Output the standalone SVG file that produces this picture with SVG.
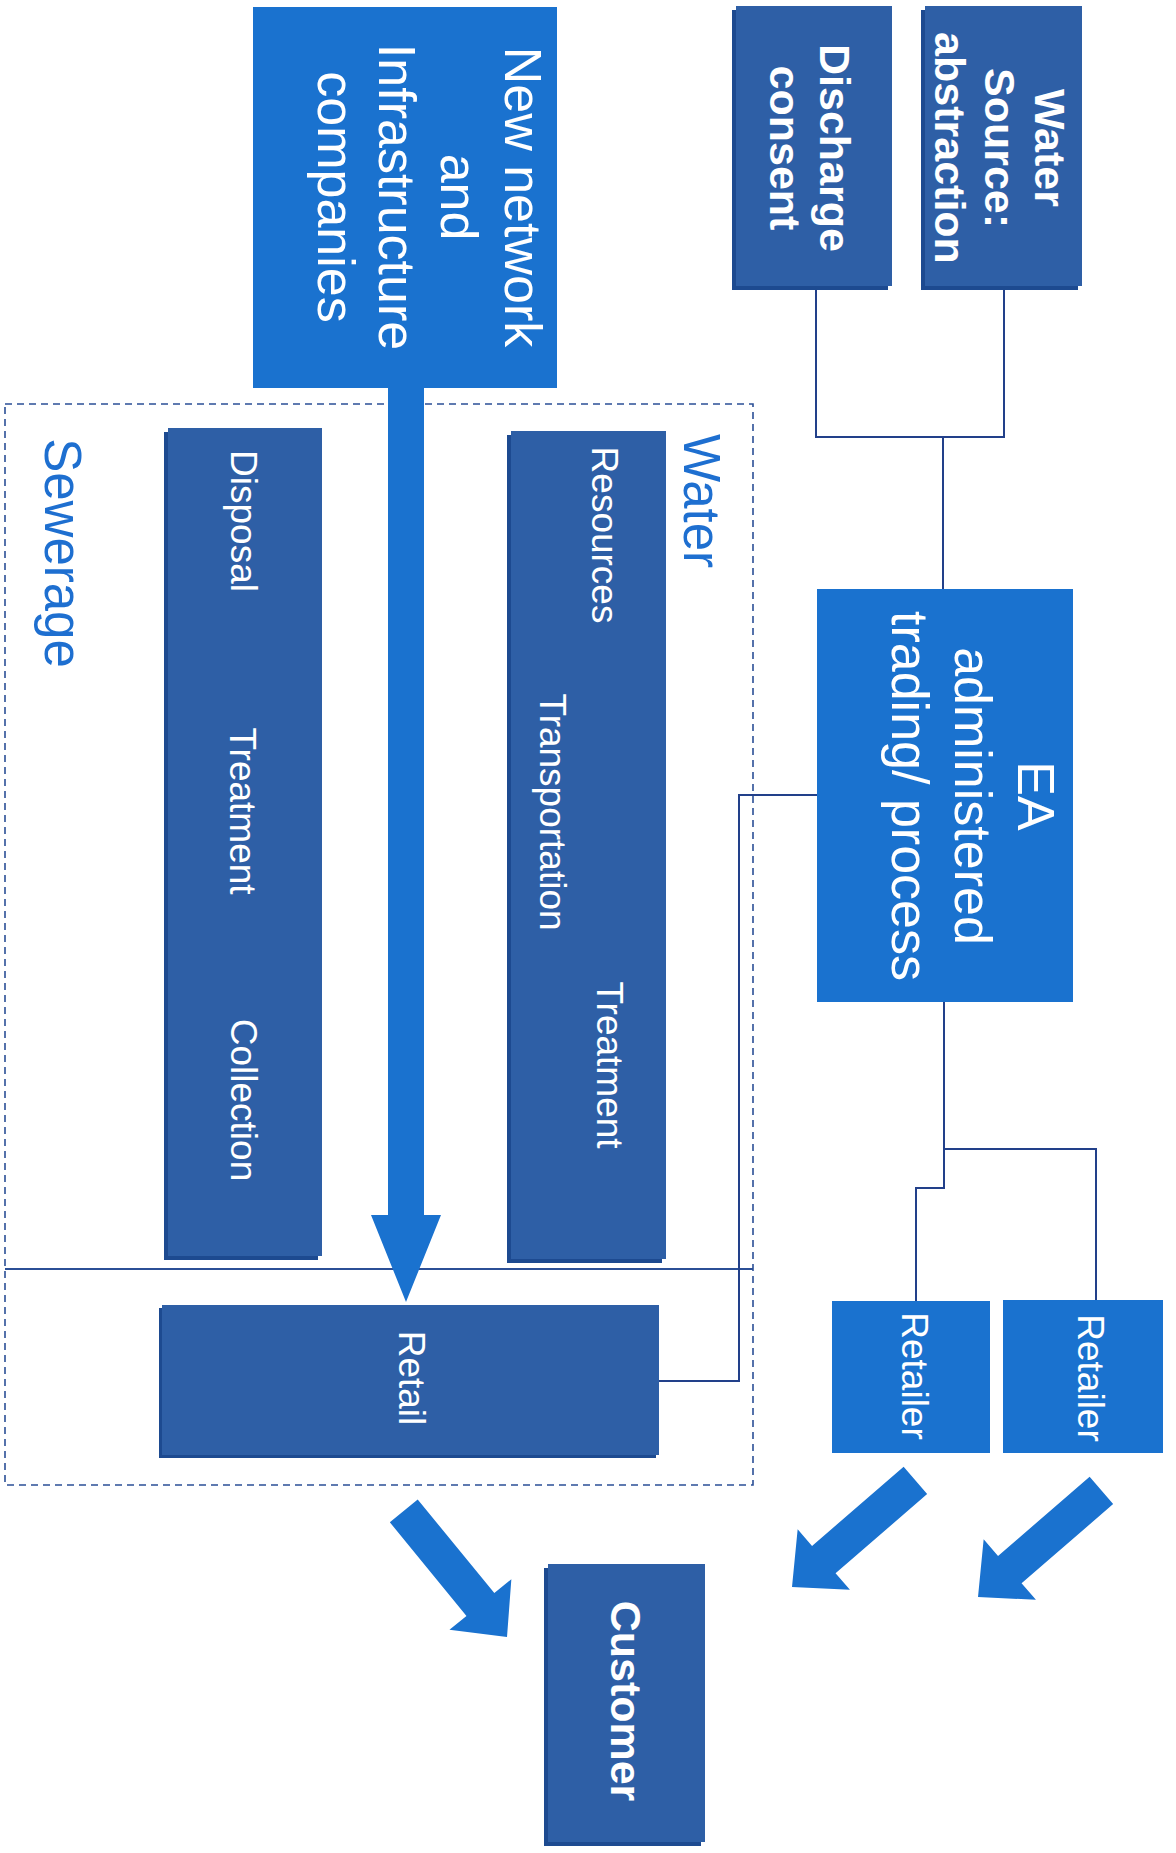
<svg xmlns="http://www.w3.org/2000/svg" width="1176" height="1853" viewBox="0 0 1176 1853">
<style>
  .bright { fill: #1a72cf; }
  .dark { fill: #2e5fa6; }
  .shadow { fill: #1d4a90; }
  .conn { fill: none; stroke: #22408a; stroke-width: 2; }
  .dashed { fill: none; stroke: #2b4f96; stroke-width: 1.6; stroke-dasharray: 7 5; }
  .solid { fill: none; stroke: #2b4f96; stroke-width: 2; }
  text { font-family: "Liberation Sans", Arial, sans-serif; fill: #ffffff; text-anchor: middle; }
  .big { font-size: 52px; }
  .small { font-size: 37px; }
  .bold { font-size: 43px; font-weight: bold; }
  .label { font-size: 51px; fill: #1e6fd0; }
  .arrow { fill: #1a72cf; }
</style>
<defs>
  <path id="darr" d="M-163,-18 L-42,-18 L-42,-40 L0,0 L-42,40 L-42,18 L-163,18 Z"/>
</defs>
<rect x="0" y="0" width="1176" height="1853" fill="#ffffff"/>

<g id="container">
  <rect class="dashed" x="5" y="404" width="748" height="1081"/>
  <line class="solid" x1="5" y1="1269" x2="753" y2="1269"/>
  <text class="label" transform="translate(684,501) rotate(90)">Water</text>
  <text class="label" transform="translate(45,553) rotate(90)">Sewerage</text>
</g>

<g id="connectors">
  <polyline class="conn" points="816,288 816,437 1004,437 1004,288"/>
  <line class="conn" x1="943" y1="437" x2="943" y2="589"/>
  <polyline class="conn" points="817,795 739,795 739,1381 659,1381"/>
  <polyline class="conn" points="944,1002 944,1188 916,1188 916,1301"/>
  <polyline class="conn" points="944,1149 1096,1149 1096,1300"/>
  <path class="arrow" d="M388,388 L424,388 L424,1215 L441,1215 L406,1302 L371,1215 L388,1215 Z"/>
  <use href="#darr" class="arrow" transform="translate(507,1637) rotate(50.7)"/>
  <use href="#darr" class="arrow" transform="translate(792,1587) rotate(139.2)"/>
  <use href="#darr" class="arrow" transform="translate(978,1597) rotate(139.2)"/>
</g>

<g id="new-network">
  <rect class="bright" x="253" y="7" width="304" height="381"/>
  <text class="big" transform="translate(505,197) rotate(90)">New network</text>
  <text class="big" transform="translate(441,197) rotate(90)">and</text>
  <text class="big" transform="translate(379,197) rotate(90)">Infrastructure</text>
  <text class="big" transform="translate(318,197) rotate(90)">companies</text>
</g>

<g id="discharge-consent">
  <rect class="shadow" x="732" y="10" width="156" height="280"/>
  <rect class="dark" x="736" y="6" width="156" height="280"/>
  <text class="bold" transform="translate(820,148) rotate(90)">Discharge</text>
  <text class="bold" transform="translate(770,148) rotate(90)">consent</text>
</g>

<g id="water-source">
  <rect class="shadow" x="921" y="10" width="157" height="280"/>
  <rect class="dark" x="925" y="6" width="157" height="280"/>
  <text class="bold" transform="translate(1035,148) rotate(90)">Water</text>
  <text class="bold" transform="translate(985,148) rotate(90)">Source:</text>
  <text class="bold" transform="translate(935,148) rotate(90)">abstraction</text>
</g>

<g id="water-chain">
  <rect class="shadow" x="507" y="435" width="155" height="828"/>
  <rect class="dark" x="511" y="431" width="155" height="828"/>
  <text class="small" transform="translate(592,535) rotate(90)">Resources</text>
  <text class="small" transform="translate(540,812) rotate(90)">Transportation</text>
  <text class="small" transform="translate(597,1065) rotate(90)">Treatment</text>
</g>

<g id="sewerage-chain">
  <rect class="shadow" x="164" y="432" width="154" height="828"/>
  <rect class="dark" x="168" y="428" width="154" height="828"/>
  <text class="small" transform="translate(231,521) rotate(90)">Disposal</text>
  <text class="small" transform="translate(230,811) rotate(90)">Treatment</text>
  <text class="small" transform="translate(231,1100) rotate(90)">Collection</text>
</g>

<g id="retail">
  <rect class="shadow" x="159" y="1308" width="497" height="150"/>
  <rect class="dark" x="162" y="1305" width="497" height="150"/>
  <text class="small" transform="translate(399,1378) rotate(90)">Retail</text>
</g>

<g id="ea">
  <rect class="bright" x="817" y="589" width="256" height="413"/>
  <text class="big" transform="translate(1018,796) rotate(90)">EA</text>
  <text class="big" transform="translate(955,796) rotate(90)">administered</text>
  <text class="big" transform="translate(892,796) rotate(90)">trading/ process</text>
</g>

<g id="retailer-1">
  <rect class="bright" x="832" y="1301" width="158" height="152"/>
  <text class="small" transform="translate(902,1376) rotate(90)">Retailer</text>
</g>

<g id="retailer-2">
  <rect class="bright" x="1003" y="1300" width="160" height="153"/>
  <text class="small" transform="translate(1078,1378) rotate(90)">Retailer</text>
</g>

<g id="customer">
  <rect class="shadow" x="544" y="1568" width="157" height="278"/>
  <rect class="dark" x="548" y="1564" width="157" height="278"/>
  <text class="bold" transform="translate(611,1701) rotate(90)">Customer</text>
</g>
</svg>
